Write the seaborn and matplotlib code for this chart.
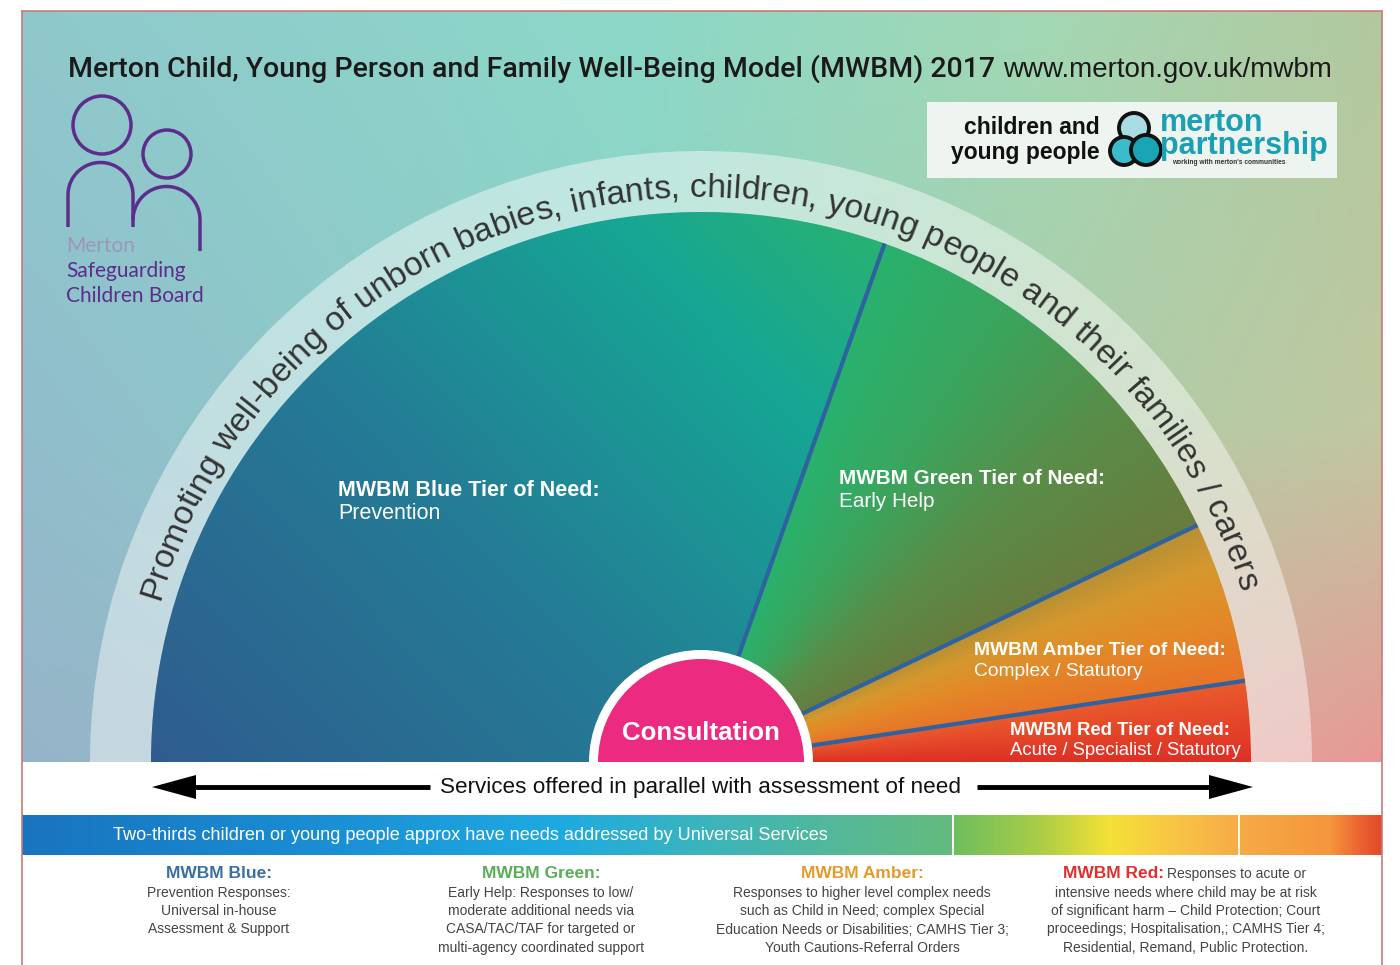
import numpy as np
import matplotlib
matplotlib.use("Agg")
import matplotlib.pyplot as plt
import seaborn as sns
from matplotlib.patches import Wedge, Rectangle, Circle, Polygon
from matplotlib.font_manager import FontProperties
from matplotlib.textpath import TextToPath

W, H, DPI = 1400, 965, 100

# ---- data ---------------------------------------------------------------
# tiers run counter-clockwise from the right-hand end of the half circle
tier_names = ["Red", "Amber", "Green", "Blue"]
tier_degrees = [8.5, 17.0, 45.0, 109.5]
tier_titles = ["MWBM Red Tier of Need:", "MWBM Amber Tier of Need:",
               "MWBM Green Tier of Need:", "MWBM Blue Tier of Need:"]
tier_subtitles = ["Acute / Specialist / Statutory", "Complex / Statutory",
                  "Early Help", "Prevention"]

title = "Merton Child, Young Person and Family Well-Being Model (MWBM) 2017"
url = "www.merton.gov.uk/mwbm"
arc_text = ("Promoting well-being of unborn babies, infants, children, "
            "young people and their families / carers")
centre_text = "Consultation"
arrow_text = "Services offered in parallel with assessment of need"
bar_text = ("Two-thirds children or young people approx have needs "
            "addressed by Universal Services")

key_heads = ["MWBM Blue:", "MWBM Green:", "MWBM Amber:", "MWBM Red:"]
key_bodies = [
    ["Prevention Responses:", "Universal in-house", "Assessment & Support"],
    ["Early Help: Responses to low/", "moderate additional needs via",
     "CASA/TAC/TAF for targeted or", "multi-agency coordinated support"],
    ["Responses to higher level complex needs",
     "such as Child in Need; complex Special",
     "Education Needs or Disabilities; CAMHS Tier 3;",
     "Youth Cautions-Referral Orders"],
    ["Responses to acute or", "intensive needs where child may be at risk",
     "of significant harm \u2013 Child Protection; Court",
     "proceedings; Hospitalisation,; CAMHS Tier 4;",
     "Residential, Remand, Public Protection."],
]
logo_left = ["Merton", "Safeguarding", "Children Board"]
logo_right = ["children and\nyoung people", "merton\npartnership",
              "working with merton's communities"]

# ---- layout -------------------------------------------------------------
CX, BASE = 701, 762          # centre of the half circle (image pixels)
R_FILL, R_RING, R_CONS = 550, 611, 112

sns.set_theme(style="white")
plt.rcParams["font.family"] = ["Liberation Sans", "DejaVu Sans"]

fig = plt.figure(figsize=(W / DPI, H / DPI), dpi=DPI)
ax = fig.add_axes([0, 0, 1, 1])


def Y(y):
    return H - np.asarray(y)


def ramp(pos, xp, cols):
    cols = np.asarray(cols, float) / 255
    return np.stack([np.interp(pos, xp, cols[:, k]) for k in range(3)], axis=-1)


# background panel
nx, ny = 300, 160
u = np.linspace(0, 1, nx)
v = np.linspace(0, 1, ny)
col_x = [0, 0.45, 0.75, 1]
columns = [
    ramp(v, [0, .55, 1], [(143, 200, 204), (145, 190, 204), (150, 180, 200)]),
    ramp(v, [0, .55, 1], [(140, 216, 200), (140, 210, 198), (150, 195, 200)]),
    ramp(v, [0, .55, 1], [(162, 216, 180), (172, 205, 170), (215, 180, 162)]),
    ramp(v, [0, .55, 1], [(178, 200, 158), (192, 200, 160), (232, 152, 150)]),
]
stack = np.stack(columns, 1)
bg = np.empty((ny, nx, 3))
for k in range(3):
    for j in range(ny):
        bg[j, :, k] = np.interp(u, col_x, stack[j, :, k])
ax.imshow(bg, extent=[22, 1382, Y(BASE), Y(11)], origin="upper",
          interpolation="bilinear", aspect="auto", zorder=0)

# pale ring for the curved text
ax.add_patch(Wedge((CX, Y(BASE)), R_RING, 0, 180, width=R_RING - R_FILL,
                   fc="white", alpha=0.45, lw=0, zorder=1))

# the tier wedges
wedges, _ = ax.pie(tier_degrees + [360 - sum(tier_degrees)],
                   center=(CX, Y(BASE)), radius=R_FILL, startangle=0,
                   counterclock=True, frame=True,
                   wedgeprops=dict(lw=0, fc="none"))
wedges[-1].set_visible(False)

gx = np.linspace(CX - R_FILL, CX + R_FILL, 700)
gy = np.linspace(Y(BASE), Y(BASE) + R_FILL, 350)
XX, YY = np.meshgrid(gx, gy)
ANG = np.degrees(np.arctan2(YY - Y(BASE), XX - CX))
LIN = ((XX - 150) * 570 + (YY - Y(BASE)) * 550) / (570 ** 2 + 550 ** 2)

shading = {
    "Red": (ANG, [0, 8.5], [(222, 48, 38), (234, 92, 45)]),
    "Amber": (ANG, [8.5, 15, 21, 25.5],
              [(232, 116, 40), (228, 136, 40), (214, 152, 46), (182, 144, 52)]),
    "Green": (ANG, [25.5, 40, 55, 70.5],
              [(104, 124, 62), (90, 140, 72), (60, 164, 92), (40, 178, 110)]),
    "Blue": (LIN, [0, .5, .9, 1.12],
             [(47, 92, 142), (36, 124, 150), (22, 166, 148), (40, 178, 114)]),
}
for name, w in zip(tier_names, wedges):
    pos, xp, cols = shading[name]
    im = ax.imshow(ramp(pos, xp, cols), extent=[gx[0], gx[-1], gy[0], gy[-1]],
                   origin="lower", interpolation="bilinear", aspect="auto", zorder=2)
    im.set_clip_path(w)

for a in np.cumsum(tier_degrees)[:-1]:
    t = np.radians(a)
    ax.plot([CX + 100 * np.cos(t), CX + R_FILL * np.cos(t)],
            [Y(BASE) + 100 * np.sin(t), Y(BASE) + R_FILL * np.sin(t)],
            color="#2e62a0", lw=3, solid_capstyle="butt", zorder=3)

# consultation half disc
ax.add_patch(Wedge((CX, Y(BASE)), R_CONS, 0, 180, fc="white", lw=0, zorder=4))
ax.add_patch(Wedge((CX, Y(BASE)), R_CONS - 9, 0, 180, fc="#ec2a80", lw=0, zorder=4))
ax.text(CX, Y(733), centre_text, color="white", fontsize=18.6, fontweight="bold",
        ha="center", va="center", zorder=5)

# tier labels
label_pos = {"Blue": (338, 496, 519), "Green": (839, 484, 507),
             "Amber": (974, 655, 676), "Red": (1010, 735, 755)}
label_size = {"Blue": 15.5, "Green": 14.9, "Amber": 13.9, "Red": 13.3}
for name, t1, t2 in zip(tier_names, tier_titles, tier_subtitles):
    x, y1, y2 = label_pos[name]
    ax.text(x, Y(y1), t1, color="white", fontsize=label_size[name],
            fontweight="bold", ha="left", va="baseline", zorder=5)
    ax.text(x, Y(y2), t2, color="white", fontsize=label_size[name],
            ha="left", va="baseline", zorder=5)

# curved text along the ring
fp = FontProperties(family="Liberation Sans", size=10)
ttp = TextToPath()
w_xx = ttp.get_text_width_height_descent("xx", fp, ismath=False)[0]
adv = np.array([ttp.get_text_width_height_descent("x" + c + "x", fp, ismath=False)[0] - w_xx
                for c in arc_text]) * DPI / 72
r_base, a_start, a_end = 565, 163.5, 17.5
span = np.radians(a_start - a_end) * r_base
arc_size = 10 * span / adv.sum()
centres = (np.cumsum(adv) - adv / 2) * span / adv.sum()
for c, s in zip(arc_text, centres):
    th = np.radians(a_start) - s / r_base
    ax.text(CX + r_base * np.cos(th), Y(BASE) + r_base * np.sin(th), c,
            rotation=np.degrees(th) - 90, rotation_mode="anchor",
            ha="center", va="baseline", fontsize=arc_size, color="#333333", zorder=5)

# title
ax.text(68, Y(77), title, fontsize=20.5, color="#1a1a1a", ha="left", va="baseline",
        family=["Roboto", "DejaVu Sans"], fontweight="medium")
ax.text(1332, Y(77), url, fontsize=20, color="#1a1a1a", ha="right", va="baseline")

# left logo
purple = "#5c2d8c"
ax.add_patch(Circle((102, Y(125)), 29, fc="none", ec=purple, lw=2.5))
ax.add_patch(Circle((167, Y(154)), 24, fc="none", ec=purple, lw=2.5))
t = np.linspace(0, np.pi, 60)
ax.plot(np.r_[68, 100.5 - 32.5 * np.cos(t), 133], Y(np.r_[227, 195 - 32.5 * np.sin(t), 227]),
        color=purple, lw=2.5, solid_capstyle="butt")
ax.plot(np.r_[166.5 - 33.5 * np.cos(t), 200], Y(np.r_[220 - 33.5 * np.sin(t), 251]),
        color=purple, lw=2.5, solid_capstyle="butt")
for txt, yy, col in zip(logo_left, [252, 277, 302], ["#9d96b9", purple, purple]):
    ax.text(66, Y(yy), txt, fontsize=15, color=col, ha="left", va="baseline",
            family=["Lato", "DejaVu Sans"])

# right logo (multi-line texts are anchored on their last baseline)
ax.add_patch(Rectangle((927, Y(178)), 410, 76, fc="#eef4ef", lw=0))
ax.text(1100, Y(159), logo_right[0], fontsize=16.5, fontweight="bold", color="#111111",
        ha="right", va="baseline", multialignment="right", linespacing=1.1)
for (x, y, r, c) in [(1134, 128, 15, "#a9dce2"), (1124, 151, 14, "#3bbccc"),
                     (1146, 150, 15, "#1aa5b6")]:
    ax.add_patch(Circle((x, Y(y)), r, fc=c, ec="#111111", lw=2.8))
ax.text(1160, Y(154), logo_right[1], fontsize=22, fontweight="bold", color="#1aa0b4",
        ha="left", va="baseline", linespacing=0.7)
ax.text(1172, Y(164), logo_right[2], fontsize=4.8,
        fontweight="bold", color="#333333", ha="left", va="baseline")

# arrows band
ax.text(CX, Y(787), arrow_text, fontsize=16.2, color="#111111", ha="center", va="center")
ax.plot([194, 430], [Y(787)] * 2, color="black", lw=3.5, solid_capstyle="butt")
ax.plot([977, 1211], [Y(787)] * 2, color="black", lw=3.5, solid_capstyle="butt")
ax.add_patch(Polygon([(152, Y(787)), (196, Y(775)), (196, Y(799))], fc="black", lw=0))
ax.add_patch(Polygon([(1253, Y(787)), (1209, Y(775)), (1209, Y(799))], fc="black", lw=0))

# universal services bar
bx = np.linspace(22, 1382, 1360)
bar = ramp(bx, [22, 300, 560, 700, 850, 952, 954, 1040, 1110, 1180, 1238, 1330, 1360, 1382],
           [(24, 116, 190), (26, 140, 210), (30, 170, 225), (58, 180, 190), (85, 185, 150),
            (100, 187, 125), (110, 190, 95), (170, 205, 70), (245, 225, 55), (248, 195, 70),
            (246, 172, 70), (245, 150, 60), (236, 100, 50), (228, 72, 42)])
ax.imshow(bar[None, :, :], extent=[22, 1382, Y(855), Y(815)], origin="upper",
          interpolation="bilinear", aspect="auto")
for x in [953, 1239]:
    ax.plot([x, x], [Y(855), Y(815)], color="white", lw=1.3)
ax.text(113, Y(836), bar_text, fontsize=13.1, color="white", ha="left", va="center")

# key columns
key_x = [219, 541, 862, 1186]
key_cols = ["#3a6fa3", "#5aae5a", "#e39b2e", "#e0302e"]
for i, (head, body) in enumerate(zip(key_heads, key_bodies)):
    if head == "MWBM Red:":
        ax.text(1063, Y(878), head, fontsize=12.5, fontweight="bold", color=key_cols[i],
                ha="left", va="baseline")
        ax.text(1167, Y(878), body[0], fontsize=10, color="#444444", ha="left", va="baseline")
        body = body[1:]
    else:
        ax.text(key_x[i], Y(878), head, fontsize=12.5, fontweight="bold",
                color=key_cols[i], ha="center", va="baseline")
    for j, line in enumerate(body):
        ax.text(key_x[i], Y(896.5 + 18.5 * j), line, fontsize=10, color="#444444",
                ha="center", va="baseline")

# thin frame
fc = "#c97a78"
ax.plot([22, 22], [0, Y(11)], color=fc, lw=1.2)
ax.plot([1382, 1382], [0, Y(11)], color=fc, lw=1.2)
ax.plot([22, 1382], [Y(11), Y(11)], color=fc, lw=1.2)

ax.set_xlim(0, W)
ax.set_ylim(0, H)
ax.set_aspect("equal")
ax.axis("off")
fig.savefig("out.png", dpi=DPI, facecolor="white")
